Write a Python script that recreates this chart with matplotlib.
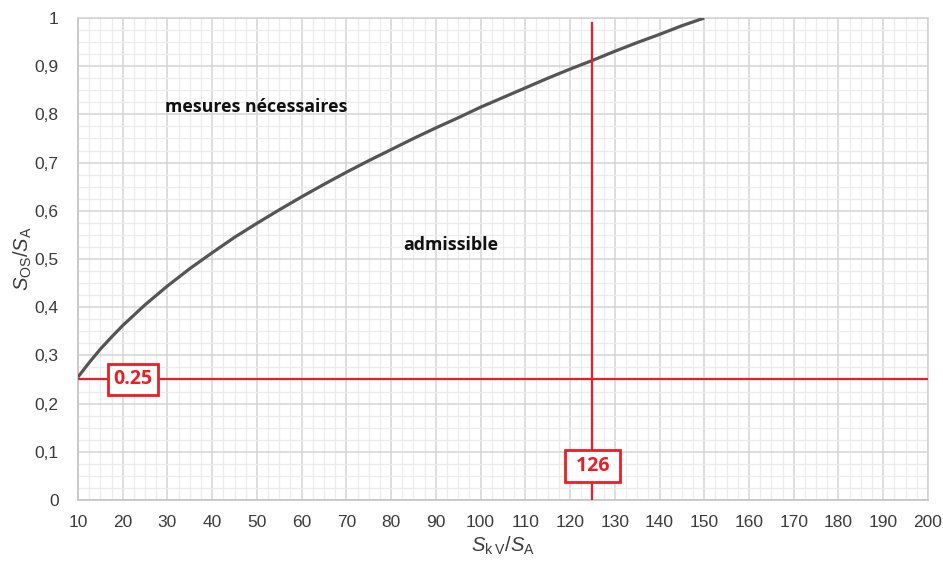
import numpy as np
import matplotlib
matplotlib.use("Agg")
import matplotlib.pyplot as plt
from matplotlib.ticker import MultipleLocator, FuncFormatter

plt.rcParams['font.family'] = ['Liberation Sans', 'DejaVu Sans']
plt.rcParams['mathtext.fontset'] = 'custom'
plt.rcParams['mathtext.rm'] = 'Liberation Sans'
plt.rcParams['mathtext.it'] = 'Liberation Sans:italic'

# curve
ratio_kv = [10, 12.5, 15, 17.5, 20, 25, 30, 35, 40, 45, 50, 55, 60, 65, 70, 75, 80, 85,
            90, 95, 100, 105, 110, 115, 120, 125, 130, 135, 140, 145, 150]
ratio_os = [0.255, 0.285, 0.313, 0.338, 0.362, 0.405, 0.444, 0.48, 0.513, 0.545,
            0.574, 0.602, 0.629, 0.655, 0.68, 0.704, 0.727, 0.75, 0.772, 0.793,
            0.815, 0.835, 0.855, 0.875, 0.894, 0.912, 0.931, 0.949, 0.966, 0.984, 1.0]

marker_x = 125
marker_x_label = "126"
limit_y = 0.25
limit_y_label = "0.25"

red = "#ee1c24"
label_fonts = ["Open Sans", "DejaVu Sans"]

fig = plt.figure(figsize=(9.43, 5.63), dpi=100)
ax = fig.add_axes([0.0827, 0.112, 0.9013, 0.856])

ax.set_xlim(10, 200)
ax.set_ylim(0, 1)
ax.xaxis.set_major_locator(MultipleLocator(10))
ax.xaxis.set_minor_locator(MultipleLocator(2.5))
ax.yaxis.set_major_locator(MultipleLocator(0.1))
ax.yaxis.set_minor_locator(MultipleLocator(0.025))
ax.yaxis.set_major_formatter(FuncFormatter(
    lambda v, p: "0" if abs(v) < 1e-9 else ("1" if abs(v - 1) < 1e-9 else f"{v:.1f}".replace(".", ","))))

ax.grid(which="major", color="#d4d4d4", lw=1.1)
ax.grid(which="minor", color="#ececec", lw=0.9)
ax.set_axisbelow(True)
for s in ax.spines.values():
    s.set_color("#d4d4d4")
    s.set_linewidth(1.2)
ax.spines["left"].set_color("#c4c4c4")
ax.spines["bottom"].set_color("#c4c4c4")
ax.tick_params(which="both", length=0)
ax.tick_params(axis="x", pad=11, labelsize=12.5, labelcolor="#3c3c3c")
ax.tick_params(axis="y", pad=14, labelsize=12.5, labelcolor="#3c3c3c")

ax.plot(ratio_kv, ratio_os, color="#555555", lw=2.3, solid_capstyle="butt", zorder=3)

ax.axhline(limit_y, color=red, lw=1.6, zorder=4)
ax.axvline(marker_x, ymax=0.99, color=red, lw=1.6, zorder=4)

box = dict(boxstyle="square,pad=0.3", fc="white", ec=red, lw=2)
ax.text(22.3, limit_y, limit_y_label, color=red, fontsize=14, fontweight="bold",
        family=label_fonts, ha="center", va="center", bbox=box, zorder=5)
ax.text(marker_x, 0.07, " " + marker_x_label + " ", color=red, fontsize=14, fontweight="bold",
        family=label_fonts, ha="center", va="center", bbox=box, zorder=5)

ax.text(29.5, 0.815, "mesures nécessaires", fontsize=12.8, fontweight="bold",
        family=label_fonts, color="#111111", ha="left", va="center")
ax.text(82.8, 0.53, "admissible", fontsize=12.8, fontweight="bold",
        family=label_fonts, color="#111111", ha="left", va="center")

ax.set_xlabel(r"$S_{\mathrm{k\;V}}/S_{\mathrm{A}}$", fontsize=14.5, color="#3c3c3c", labelpad=3)
ax.set_ylabel(r"$S_{\mathrm{OS}}/S_{\mathrm{A}}$", fontsize=14.5, color="#3c3c3c", labelpad=0)

fig.savefig("out.png", dpi=100)
